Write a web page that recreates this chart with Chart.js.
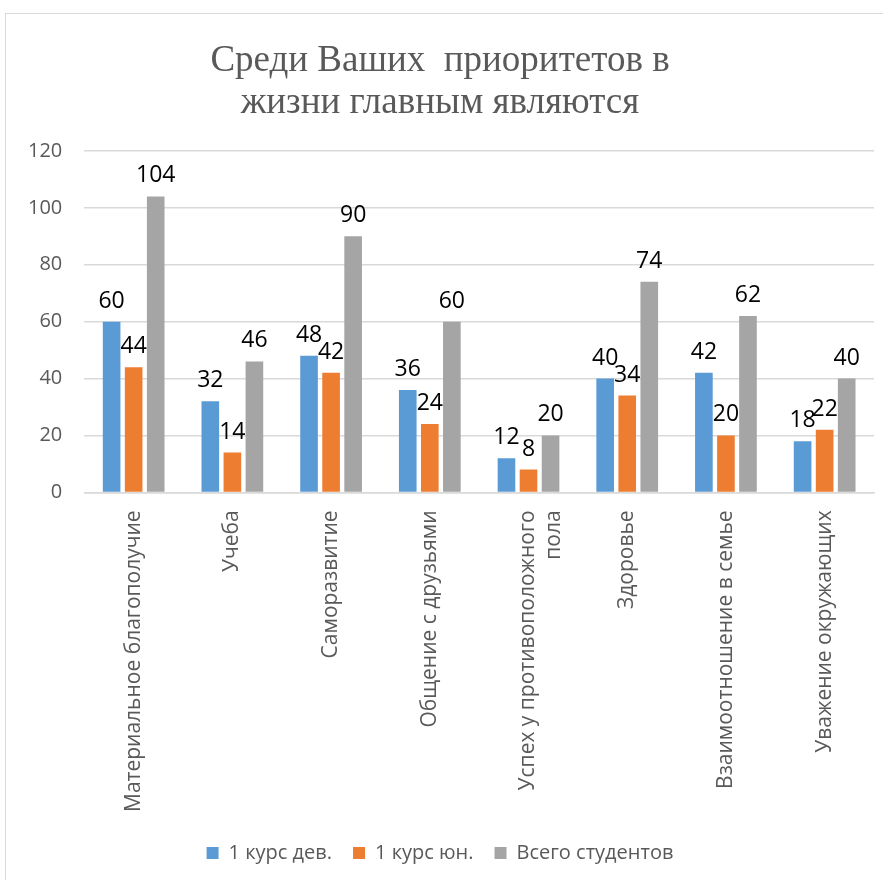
<!DOCTYPE html>
<html lang="ru">
<head>
<meta charset="utf-8">
<title>Приоритеты в жизни</title>
<script src="https://cdn.jsdelivr.net/npm/chart.js@4/dist/chart.umd.min.js"></script>
<style>
    html, body { margin: 0; padding: 0; background: #fff; }
    .chart-box {
        position: absolute;
        left: 5px;
        top: 13px;
        width: 880px;
        height: 868px;
        border: 1px solid #d9d9d9;
        box-sizing: border-box;
    }
</style>
</head>
<body>
<div class="chart-box">
    <canvas id="priorities"></canvas>
</div>
<script>
const categories = [
    'Материальное благополучие',
    'Учеба',
    'Саморазвитие',
    'Общение с друзьями',
    ['Успех у противоположного', 'пола'],
    'Здоровье',
    'Взаимоотношение в семье',
    'Уважение окружающих'
];
const girlsFirstYear = [60, 32, 48, 36, 12, 40, 42, 18];
const boysFirstYear = [44, 14, 42, 24, 8, 34, 20, 22];
const allStudents = [104, 46, 90, 60, 20, 74, 62, 40];
const yTicks = [0, 20, 40, 60, 80, 100, 120];

const textGray = '#595959';
const gridGray = '#d9d9d9';
const sansFont = '"Open Sans", sans-serif';

// value labels drawn above each bar
const barValueLabels = {
    id: 'barValueLabels',
    afterDatasetsDraw(chart) {
        const ctx = chart.ctx;
        ctx.save();
        ctx.font = '23px ' + sansFont;
        ctx.fillStyle = '#000';
        ctx.textAlign = 'center';
        ctx.textBaseline = 'alphabetic';
        chart.data.datasets.forEach((ds, i) => {
            const meta = chart.getDatasetMeta(i);
            meta.data.forEach((bar, j) => {
                ctx.fillText(String(ds.data[j]), bar.x, bar.y - 14);
            });
        });
        ctx.restore();
    }
};

new Chart(document.getElementById('priorities'), {
    type: 'bar',
    data: {
        labels: categories,
        datasets: [
            { label: '1 курс дев.', data: girlsFirstYear, backgroundColor: '#5b9bd5' },
            { label: '1 курс юн.', data: boysFirstYear, backgroundColor: '#ed7d31' },
            { label: 'Всего студентов', data: allStudents, backgroundColor: '#a5a5a5' }
        ]
    },
    options: {
        responsive: true,
        maintainAspectRatio: false,
        animation: false,
        categoryPercentage: 0.67,
        barPercentage: 0.8,
        layout: { padding: { left: 0, right: 10, top: 0, bottom: 7 } },
        plugins: {
            title: {
                display: true,
                text: ['Среди Ваших  приоритетов в', 'жизни главным являются'],
                color: textGray,
                font: { family: '"Liberation Serif", serif', size: 37, weight: 'normal', lineHeight: 1.12 },
                padding: { top: 27, bottom: 27 }
            },
            legend: {
                position: 'bottom',
                labels: {
                    color: textGray,
                    font: { family: sansFont, size: 20 },
                    boxWidth: 12,
                    boxHeight: 12,
                    padding: 21
                }
            },
            tooltip: { enabled: false }
        },
        scales: {
            x: {
                grid: { display: false },
                border: { color: gridGray, width: 1.5 },
                ticks: {
                    color: textGray,
                    font: { family: sansFont, size: 21 },
                    minRotation: 90,
                    maxRotation: 90,
                    autoSkip: false,
                    padding: 10
                }
            },
            y: {
                min: 0,
                max: 120,
                afterBuildTicks: (axis) => { axis.ticks = yTicks.map(v => ({ value: v })); },
                grid: { color: gridGray, lineWidth: 1.5, drawTicks: false },
                border: { display: false },
                ticks: {
                    color: textGray,
                    font: { family: sansFont, size: 20 },
                    padding: 22
                }
            }
        }
    },
    plugins: [barValueLabels]
});
</script>
</body>
</html>
